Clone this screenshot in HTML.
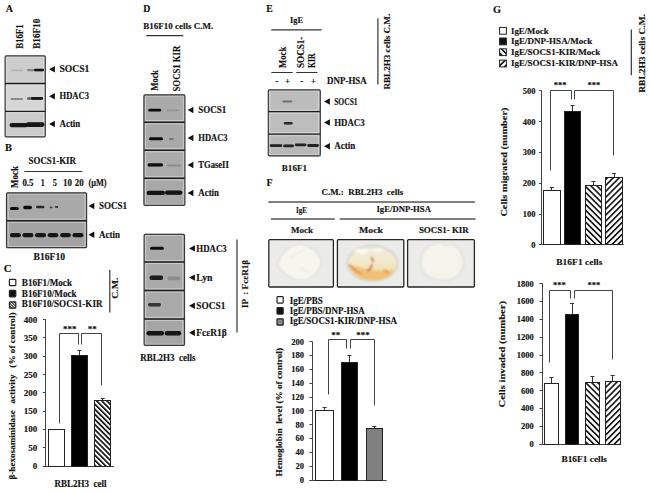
<!DOCTYPE html><html><head><meta charset="utf-8"><style>svg text{font-family:"Liberation Serif",serif;font-weight:bold;stroke:#111;stroke-width:0.15px}html,body{margin:0;padding:0;background:#fff;width:650px;height:492px;overflow:hidden}svg{display:block}</style></head><body><svg width="650" height="492" viewBox="0 0 650 492">
<defs><filter id="bl" x="-30%" y="-200%" width="160%" height="500%"><feGaussianBlur stdDeviation="0.7"/></filter><filter id="bl2" x="-30%" y="-30%" width="160%" height="160%"><feGaussianBlur stdDeviation="2"/></filter><filter id="bl1" x="-30%" y="-30%" width="160%" height="160%"><feGaussianBlur stdDeviation="1"/></filter><pattern id="hb" patternUnits="userSpaceOnUse" width="4.2" height="4.2" patternTransform="rotate(-45)"><rect width="4.2" height="4.2" fill="#fff"/><rect width="1.6" height="4.2" fill="#111"/></pattern><pattern id="hf" patternUnits="userSpaceOnUse" width="4.2" height="4.2" patternTransform="rotate(45)"><rect width="4.2" height="4.2" fill="#fff"/><rect width="1.6" height="4.2" fill="#111"/></pattern><pattern id="hs" patternUnits="userSpaceOnUse" width="2" height="2" patternTransform="rotate(-45)"><rect width="2" height="2" fill="#ddd"/><rect width="1" height="2" fill="#333"/></pattern><pattern id="hc" patternUnits="userSpaceOnUse" width="3.6" height="3.6" patternTransform="rotate(-45)"><rect width="3.6" height="3.6" fill="#fff"/><rect width="1.7" height="3.6" fill="#111"/></pattern></defs>
<rect width="650" height="492" fill="#fff"/>
<text x="5.7" y="11.6" font-size="10" text-anchor="start" fill="#111" textLength="7.3" lengthAdjust="spacingAndGlyphs">A</text>
<text transform="translate(23.1,48.8) rotate(-90)" x="0" y="0" font-size="10.5" fill="#111" textLength="24.4" lengthAdjust="spacingAndGlyphs">B16F1</text>
<text transform="translate(40.0,48.8) rotate(-90)" x="0" y="0" font-size="10.5" fill="#111" textLength="30.1" lengthAdjust="spacingAndGlyphs">B16F10</text>
<rect x="5.1" y="55.4" width="40.2" height="28.1" fill="#cdcdcd"/>
<rect x="6.7" y="57.0" width="37.0" height="24.9" fill="none" stroke="#e8e8e8" stroke-opacity="0.6" stroke-width="0.9"/>
<rect x="5.1" y="83.5" width="40.2" height="27.9" fill="#d6d6d6"/>
<rect x="6.7" y="85.1" width="37.0" height="24.7" fill="none" stroke="#e8e8e8" stroke-opacity="0.6" stroke-width="0.9"/>
<rect x="5.1" y="111.4" width="40.2" height="26.0" fill="#cbcbcb"/>
<rect x="6.7" y="113.0" width="37.0" height="22.8" fill="none" stroke="#e8e8e8" stroke-opacity="0.6" stroke-width="0.9"/>
<rect x="5.1" y="55.9" width="40.2" height="81.0" rx="1.2" fill="none" stroke="#3a3a3a" stroke-width="1.2"/>
<line x1="5.1" y1="83.5" x2="45.3" y2="83.5" stroke="#1e1e1e" stroke-width="1.4"/>
<line x1="5.1" y1="111.4" x2="45.3" y2="111.4" stroke="#1e1e1e" stroke-width="1.4"/>
<rect x="11.0" y="69.4" width="12.0" height="1.8" rx="0.9" fill="#0a0a0a" fill-opacity="0.12" filter="url(#bl)"/>
<rect x="27.0" y="69.0" width="17.0" height="2.2" rx="1.1" fill="#0a0a0a" fill-opacity="0.35" filter="url(#bl)"/>
<rect x="34.0" y="68.7" width="10.0" height="2.6" rx="1.3" fill="#0a0a0a" fill-opacity="0.95" filter="url(#bl)"/>
<rect x="10.5" y="97.9" width="12.5" height="2.2" rx="1.1" fill="#0a0a0a" fill-opacity="0.35" filter="url(#bl)"/>
<rect x="27.0" y="97.2" width="16.0" height="2.6" rx="1.3" fill="#0a0a0a" fill-opacity="0.55" filter="url(#bl)"/>
<rect x="31.0" y="97.0" width="12.0" height="2.8" rx="1.4" fill="#0a0a0a" fill-opacity="0.9" filter="url(#bl)"/>
<rect x="9.5" y="122.9" width="18.5" height="4.4" rx="2.2" fill="#0a0a0a" fill-opacity="0.95" filter="url(#bl)"/>
<rect x="26.0" y="122.3" width="18.5" height="4.6" rx="2.3" fill="#0a0a0a" fill-opacity="0.95" filter="url(#bl)"/>
<polygon points="49.1,69.3 54.9,66.1 54.9,72.5" fill="#111"/>
<text x="59.5" y="72.4" font-size="9.5" text-anchor="start" fill="#111" textLength="29.9" lengthAdjust="spacingAndGlyphs">SOCS1</text>
<polygon points="49.1,96.3 54.9,93.1 54.9,99.5" fill="#111"/>
<text x="59.5" y="99.4" font-size="9.5" text-anchor="start" fill="#111" textLength="29.5" lengthAdjust="spacingAndGlyphs">HDAC3</text>
<polygon points="49.1,124.0 54.9,120.8 54.9,127.2" fill="#111"/>
<text x="59.5" y="127.1" font-size="9.5" text-anchor="start" fill="#111" textLength="20.8" lengthAdjust="spacingAndGlyphs">Actin</text>
<text x="5.0" y="151.1" font-size="10" text-anchor="start" fill="#111" textLength="7.0" lengthAdjust="spacingAndGlyphs">B</text>
<text x="28.5" y="164.4" font-size="9.5" text-anchor="start" fill="#111" textLength="47.5" lengthAdjust="spacingAndGlyphs">SOCS1-KIR</text>
<line x1="24.4" y1="171.5" x2="82.3" y2="171.5" stroke="#333" stroke-width="1.2"/>
<text transform="translate(18.2,188.0) rotate(-90)" x="0" y="0" font-size="9.8" fill="#111" textLength="22.0" lengthAdjust="spacingAndGlyphs">Mock</text>
<text x="22.4" y="186.1" font-size="9.5" text-anchor="start" fill="#111" textLength="11.1" lengthAdjust="spacingAndGlyphs">0.5</text>
<text x="40.7" y="186.1" font-size="9.5" text-anchor="start" fill="#111" textLength="4.0" lengthAdjust="spacingAndGlyphs">1</text>
<text x="52.8" y="186.1" font-size="9.5" text-anchor="start" fill="#111" textLength="4.2" lengthAdjust="spacingAndGlyphs">5</text>
<text x="63.0" y="186.1" font-size="9.5" text-anchor="start" fill="#111" textLength="9.0" lengthAdjust="spacingAndGlyphs">10</text>
<text x="74.8" y="186.1" font-size="9.5" text-anchor="start" fill="#111" textLength="8.9" lengthAdjust="spacingAndGlyphs">20</text>
<text x="88.4" y="186.1" font-size="9.5" text-anchor="start" fill="#111" textLength="18.2" lengthAdjust="spacingAndGlyphs">(μM)</text>
<rect x="6.5" y="192.4" width="80.1" height="28.3" fill="#a9a9a9"/>
<rect x="8.1" y="194.0" width="76.9" height="25.1" fill="none" stroke="#e8e8e8" stroke-opacity="0.6" stroke-width="0.9"/>
<rect x="6.5" y="220.7" width="80.1" height="27.5" fill="#a3a3a3"/>
<rect x="8.1" y="222.3" width="76.9" height="24.3" fill="none" stroke="#e8e8e8" stroke-opacity="0.6" stroke-width="0.9"/>
<rect x="6.5" y="192.9" width="80.1" height="54.8" rx="1.2" fill="none" stroke="#3a3a3a" stroke-width="1.2"/>
<line x1="6.5" y1="220.7" x2="86.6" y2="220.7" stroke="#1e1e1e" stroke-width="1.4"/>
<rect x="10.0" y="206.9" width="8.8" height="3.2" rx="1.6" fill="#0a0a0a" fill-opacity="1" filter="url(#bl)"/>
<rect x="23.2" y="205.8" width="8.8" height="3.4" rx="1.7" fill="#0a0a0a" fill-opacity="1" filter="url(#bl)"/>
<rect x="36.0" y="205.7" width="8.4" height="2.6" rx="1.3" fill="#0a0a0a" fill-opacity="0.85" filter="url(#bl)"/>
<rect x="49.6" y="206.4" width="2.9" height="1.8" rx="0.9" fill="#0a0a0a" fill-opacity="0.6" filter="url(#bl)"/>
<rect x="55.0" y="206.1" width="3.2" height="1.8" rx="0.9" fill="#0a0a0a" fill-opacity="0.7" filter="url(#bl)"/>
<rect x="10.0" y="233.1" width="11.0" height="4.2" rx="2.1" fill="#0a0a0a" fill-opacity="0.95" filter="url(#bl)"/>
<rect x="22.5" y="233.1" width="10.9" height="4.2" rx="2.1" fill="#0a0a0a" fill-opacity="0.95" filter="url(#bl)"/>
<rect x="35.0" y="233.1" width="11.0" height="4.2" rx="2.1" fill="#0a0a0a" fill-opacity="0.95" filter="url(#bl)"/>
<rect x="47.7" y="233.1" width="10.5" height="4.2" rx="2.1" fill="#0a0a0a" fill-opacity="0.95" filter="url(#bl)"/>
<rect x="60.2" y="233.1" width="10.6" height="4.2" rx="2.1" fill="#0a0a0a" fill-opacity="0.95" filter="url(#bl)"/>
<rect x="72.5" y="233.1" width="10.9" height="4.2" rx="2.1" fill="#0a0a0a" fill-opacity="0.95" filter="url(#bl)"/>
<polygon points="88.5,206.0 94.3,202.8 94.3,209.2" fill="#111"/>
<text x="99.0" y="209.1" font-size="9.5" text-anchor="start" fill="#111" textLength="28.0" lengthAdjust="spacingAndGlyphs">SOCS1</text>
<polygon points="88.5,234.8 94.3,231.6 94.3,238.0" fill="#111"/>
<text x="99.0" y="237.9" font-size="9.5" text-anchor="start" fill="#111" textLength="21.0" lengthAdjust="spacingAndGlyphs">Actin</text>
<text x="33.5" y="259.9" font-size="9.5" text-anchor="start" fill="#111" textLength="31.5" lengthAdjust="spacingAndGlyphs">B16F10</text>
<text x="3.7" y="272.1" font-size="10" text-anchor="start" fill="#111" textLength="7.7" lengthAdjust="spacingAndGlyphs">C</text>
<rect x="9.4" y="279.3" width="6.4" height="6.4" rx="0.8" fill="#fff" stroke="#222" stroke-width="1.2"/>
<rect x="9.4" y="290.4" width="6.4" height="6.4" rx="0.8" fill="#111" stroke="#222" stroke-width="1.2"/>
<rect x="9.4" y="301.8" width="6.4" height="6.4" rx="0.8" fill="url(#hs)" stroke="#222" stroke-width="1.2"/>
<text x="21.8" y="285.6" font-size="9.5" text-anchor="start" fill="#111" textLength="50.2" lengthAdjust="spacingAndGlyphs">B16F1/Mock</text>
<text x="21.8" y="296.7" font-size="9.5" text-anchor="start" fill="#111" textLength="54.8" lengthAdjust="spacingAndGlyphs">B16F10/Mock</text>
<text x="21.8" y="307.4" font-size="9.5" text-anchor="start" fill="#111" textLength="80.7" lengthAdjust="spacingAndGlyphs">B16F10/SOCS1-KIR</text>
<line x1="109.8" y1="270.0" x2="109.8" y2="312.6" stroke="#333" stroke-width="1.2"/>
<text transform="translate(118.3,298.8) rotate(-90)" x="0" y="0" font-size="9" fill="#111" textLength="21.3" lengthAdjust="spacingAndGlyphs">C.M.</text>
<line x1="45.5" y1="319.1" x2="45.5" y2="466.0" stroke="#444" stroke-width="1"/>
<line x1="42.8" y1="466.5" x2="114.0" y2="466.5" stroke="#444" stroke-width="1"/>
<line x1="42.8" y1="466.5" x2="45.3" y2="466.5" stroke="#444" stroke-width="1"/>
<text x="37.2" y="469.0" font-size="9" text-anchor="end" fill="#111">0</text>
<line x1="42.8" y1="447.5" x2="45.3" y2="447.5" stroke="#444" stroke-width="1"/>
<text x="37.2" y="450.7" font-size="9" text-anchor="end" fill="#111">50</text>
<line x1="42.8" y1="429.5" x2="45.3" y2="429.5" stroke="#444" stroke-width="1"/>
<text x="37.2" y="432.4" font-size="9" text-anchor="end" fill="#111">100</text>
<line x1="42.8" y1="411.5" x2="45.3" y2="411.5" stroke="#444" stroke-width="1"/>
<text x="37.2" y="414.1" font-size="9" text-anchor="end" fill="#111">150</text>
<line x1="42.8" y1="392.5" x2="45.3" y2="392.5" stroke="#444" stroke-width="1"/>
<text x="37.2" y="395.8" font-size="9" text-anchor="end" fill="#111">200</text>
<line x1="42.8" y1="374.5" x2="45.3" y2="374.5" stroke="#444" stroke-width="1"/>
<text x="37.2" y="377.5" font-size="9" text-anchor="end" fill="#111">250</text>
<line x1="42.8" y1="356.5" x2="45.3" y2="356.5" stroke="#444" stroke-width="1"/>
<text x="37.2" y="359.2" font-size="9" text-anchor="end" fill="#111">300</text>
<line x1="42.8" y1="337.5" x2="45.3" y2="337.5" stroke="#444" stroke-width="1"/>
<text x="37.2" y="340.9" font-size="9" text-anchor="end" fill="#111">350</text>
<line x1="42.8" y1="319.5" x2="45.3" y2="319.5" stroke="#444" stroke-width="1"/>
<text x="37.2" y="322.6" font-size="9" text-anchor="end" fill="#111">400</text>
<line x1="56.5" y1="429.4" x2="56.5" y2="429.0" stroke="#333" stroke-width="1"/>
<line x1="54.3" y1="429.5" x2="58.3" y2="429.5" stroke="#333" stroke-width="1"/>
<rect x="48.5" y="429.5" width="16.0" height="37.0" fill="#fff" stroke="#222" stroke-width="1"/>
<line x1="79.5" y1="355.1" x2="79.5" y2="350.7" stroke="#333" stroke-width="1"/>
<line x1="77.3" y1="350.5" x2="81.3" y2="350.5" stroke="#333" stroke-width="1"/>
<rect x="71.5" y="355.5" width="16.0" height="111.0" fill="#000" stroke="#222" stroke-width="1"/>
<line x1="102.5" y1="400.1" x2="102.5" y2="398.3" stroke="#333" stroke-width="1"/>
<line x1="100.7" y1="398.5" x2="104.7" y2="398.5" stroke="#333" stroke-width="1"/>
<rect x="94.5" y="400.5" width="16.0" height="66.0" fill="url(#hc)" stroke="#222" stroke-width="1"/>
<polyline points="59.5,423.5 59.5,333.5 78.5,333.5 78.5,344.5" fill="none" stroke="#444" stroke-width="1"/>
<polyline points="81.5,344.5 81.5,333.5 101.5,333.5 101.5,385.5" fill="none" stroke="#444" stroke-width="1"/>
<text x="69.8" y="332.0" font-size="9" text-anchor="middle" fill="#111">***</text>
<text x="92.3" y="332.0" font-size="9" text-anchor="middle" fill="#111">**</text>
<text x="54.6" y="487.4" font-size="9.5" text-anchor="start" fill="#111" textLength="52.0" lengthAdjust="spacingAndGlyphs">RBL2H3 &#160;cell</text>
<text transform="translate(15.0,479.5) rotate(-90)" x="0" y="0" font-size="9" fill="#111" textLength="167.0" lengthAdjust="spacingAndGlyphs">β-hexosaminidase &#160;&#160;activity &#160;&#160;(% of control)</text>
<text x="143.2" y="11.9" font-size="10" text-anchor="start" fill="#111" textLength="7.1" lengthAdjust="spacingAndGlyphs">D</text>
<text x="143.2" y="29.2" font-size="9" text-anchor="start" fill="#111" textLength="70.1" lengthAdjust="spacingAndGlyphs">B16F10 cells C.M.</text>
<line x1="146.3" y1="35.6" x2="183.3" y2="35.6" stroke="#333" stroke-width="1.2"/>
<text transform="translate(158.1,90.4) rotate(-90)" x="0" y="0" font-size="10" fill="#111" textLength="20.4" lengthAdjust="spacingAndGlyphs">Mock</text>
<text transform="translate(180.0,91.5) rotate(-90)" x="0" y="0" font-size="10" fill="#111" textLength="45.8" lengthAdjust="spacingAndGlyphs">SOCS1 KIR</text>
<rect x="143.9" y="94.4" width="41.0" height="27.8" fill="#aaaaaa"/>
<rect x="145.5" y="96.0" width="37.8" height="24.6" fill="none" stroke="#e8e8e8" stroke-opacity="0.6" stroke-width="0.9"/>
<rect x="143.9" y="122.2" width="41.0" height="28.0" fill="#a9a9a9"/>
<rect x="145.5" y="123.8" width="37.8" height="24.8" fill="none" stroke="#e8e8e8" stroke-opacity="0.6" stroke-width="0.9"/>
<rect x="143.9" y="150.2" width="41.0" height="28.1" fill="#ababab"/>
<rect x="145.5" y="151.8" width="37.8" height="24.9" fill="none" stroke="#e8e8e8" stroke-opacity="0.6" stroke-width="0.9"/>
<rect x="143.9" y="178.3" width="41.0" height="27.6" fill="#a8a8a8"/>
<rect x="145.5" y="179.9" width="37.8" height="24.4" fill="none" stroke="#e8e8e8" stroke-opacity="0.6" stroke-width="0.9"/>
<rect x="143.9" y="94.9" width="41.0" height="110.5" rx="1.2" fill="none" stroke="#3a3a3a" stroke-width="1.2"/>
<line x1="143.9" y1="122.2" x2="184.9" y2="122.2" stroke="#1e1e1e" stroke-width="1.4"/>
<line x1="143.9" y1="150.2" x2="184.9" y2="150.2" stroke="#1e1e1e" stroke-width="1.4"/>
<line x1="143.9" y1="178.3" x2="184.9" y2="178.3" stroke="#1e1e1e" stroke-width="1.4"/>
<rect x="148.3" y="108.8" width="12.9" height="2.8" rx="1.4" fill="#0a0a0a" fill-opacity="1" filter="url(#bl)"/>
<rect x="166.6" y="109.5" width="12.2" height="1.8" rx="0.9" fill="#0a0a0a" fill-opacity="0.12" filter="url(#bl)"/>
<rect x="149.0" y="137.3" width="14.0" height="3.0" rx="1.5" fill="#0a0a0a" fill-opacity="1" filter="url(#bl)"/>
<rect x="169.0" y="138.0" width="5.0" height="2.0" rx="1.0" fill="#0a0a0a" fill-opacity="0.3" filter="url(#bl)"/>
<rect x="147.6" y="163.3" width="15.4" height="3.2" rx="1.6" fill="#0a0a0a" fill-opacity="1" filter="url(#bl)"/>
<rect x="166.6" y="164.6" width="14.4" height="1.8" rx="0.9" fill="#0a0a0a" fill-opacity="0.18" filter="url(#bl)"/>
<rect x="146.6" y="190.7" width="18.4" height="4.4" rx="2.2" fill="#0a0a0a" fill-opacity="0.95" filter="url(#bl)"/>
<rect x="165.0" y="190.4" width="17.4" height="4.4" rx="2.2" fill="#0a0a0a" fill-opacity="0.95" filter="url(#bl)"/>
<polygon points="187.6,110.0 193.4,106.8 193.4,113.2" fill="#111"/>
<text x="198.3" y="113.1" font-size="9.5" text-anchor="start" fill="#111" textLength="28.0" lengthAdjust="spacingAndGlyphs">SOCS1</text>
<polygon points="187.6,138.0 193.4,134.8 193.4,141.2" fill="#111"/>
<text x="198.3" y="141.1" font-size="9.5" text-anchor="start" fill="#111" textLength="29.3" lengthAdjust="spacingAndGlyphs">HDAC3</text>
<polygon points="187.6,165.0 193.4,161.8 193.4,168.2" fill="#111"/>
<text x="198.3" y="168.1" font-size="9.5" text-anchor="start" fill="#111" textLength="30.5" lengthAdjust="spacingAndGlyphs">TGaseII</text>
<polygon points="187.6,193.0 193.4,189.8 193.4,196.2" fill="#111"/>
<text x="198.3" y="196.1" font-size="9.5" text-anchor="start" fill="#111" textLength="20.7" lengthAdjust="spacingAndGlyphs">Actin</text>
<rect x="144.1" y="233.8" width="40.4" height="28.2" fill="#a9a9a9"/>
<rect x="145.7" y="235.4" width="37.2" height="25.0" fill="none" stroke="#e8e8e8" stroke-opacity="0.6" stroke-width="0.9"/>
<rect x="144.1" y="262.0" width="40.4" height="28.5" fill="#aaaaaa"/>
<rect x="145.7" y="263.6" width="37.2" height="25.3" fill="none" stroke="#e8e8e8" stroke-opacity="0.6" stroke-width="0.9"/>
<rect x="144.1" y="290.5" width="40.4" height="28.5" fill="#aaaaaa"/>
<rect x="145.7" y="292.1" width="37.2" height="25.3" fill="none" stroke="#e8e8e8" stroke-opacity="0.6" stroke-width="0.9"/>
<rect x="144.1" y="319.0" width="40.4" height="26.9" fill="#a6a6a6"/>
<rect x="145.7" y="320.6" width="37.2" height="23.7" fill="none" stroke="#e8e8e8" stroke-opacity="0.6" stroke-width="0.9"/>
<rect x="144.1" y="234.3" width="40.4" height="111.1" rx="1.2" fill="none" stroke="#3a3a3a" stroke-width="1.2"/>
<line x1="144.1" y1="262.0" x2="184.5" y2="262.0" stroke="#1e1e1e" stroke-width="1.4"/>
<line x1="144.1" y1="290.5" x2="184.5" y2="290.5" stroke="#1e1e1e" stroke-width="1.4"/>
<line x1="144.1" y1="319.0" x2="184.5" y2="319.0" stroke="#1e1e1e" stroke-width="1.4"/>
<rect x="150.0" y="246.8" width="13.8" height="3.0" rx="1.5" fill="#0a0a0a" fill-opacity="1" filter="url(#bl)"/>
<rect x="149.5" y="275.6" width="13.7" height="4.4" rx="2.2" fill="#0a0a0a" fill-opacity="0.9" filter="url(#bl)"/>
<rect x="167.4" y="276.4" width="12.8" height="3.8" rx="1.9" fill="#0a0a0a" fill-opacity="0.18" filter="url(#bl)"/>
<rect x="148.0" y="303.0" width="13.0" height="3.4" rx="1.7" fill="#0a0a0a" fill-opacity="0.75" filter="url(#bl)"/>
<rect x="146.5" y="331.0" width="17.5" height="4.4" rx="2.2" fill="#0a0a0a" fill-opacity="0.95" filter="url(#bl)"/>
<rect x="164.7" y="331.0" width="16.5" height="4.4" rx="2.2" fill="#0a0a0a" fill-opacity="0.95" filter="url(#bl)"/>
<polygon points="189.1,248.4 194.9,245.2 194.9,251.6" fill="#111"/>
<text x="196.3" y="251.5" font-size="9.5" text-anchor="start" fill="#111" textLength="30.4" lengthAdjust="spacingAndGlyphs">HDAC3</text>
<polygon points="189.1,277.6 194.9,274.4 194.9,280.8" fill="#111"/>
<text x="196.3" y="280.7" font-size="9.5" text-anchor="start" fill="#111" textLength="16.2" lengthAdjust="spacingAndGlyphs">Lyn</text>
<polygon points="189.1,305.8 194.9,302.6 194.9,309.0" fill="#111"/>
<text x="196.3" y="308.9" font-size="9.5" text-anchor="start" fill="#111" textLength="29.0" lengthAdjust="spacingAndGlyphs">SOCS1</text>
<polygon points="189.1,332.8 194.9,329.6 194.9,336.0" fill="#111"/>
<text x="196.3" y="335.9" font-size="9.5" text-anchor="start" fill="#111" textLength="30.4" lengthAdjust="spacingAndGlyphs">FcεR1β</text>
<line x1="237.0" y1="239.5" x2="237.0" y2="332.6" stroke="#333" stroke-width="1.2"/>
<text transform="translate(248.2,308.0) rotate(-90)" x="0" y="0" font-size="9" fill="#111" textLength="48.2" lengthAdjust="spacingAndGlyphs">IP &#160;: FcεR1β</text>
<text x="140.2" y="360.6" font-size="9.5" text-anchor="start" fill="#111" textLength="55.3" lengthAdjust="spacingAndGlyphs">RBL2H3 &#160;cells</text>
<text x="266.3" y="12.2" font-size="10" text-anchor="start" fill="#111" textLength="6.5" lengthAdjust="spacingAndGlyphs">E</text>
<text x="290.0" y="22.7" font-size="9" text-anchor="start" fill="#111" textLength="13.0" lengthAdjust="spacingAndGlyphs">IgE</text>
<line x1="271.3" y1="29.9" x2="321.5" y2="29.9" stroke="#333" stroke-width="1.2"/>
<text transform="translate(285.8,68.0) rotate(-90)" x="0" y="0" font-size="10" fill="#111" textLength="21.3" lengthAdjust="spacingAndGlyphs">Mock</text>
<text transform="translate(304.1,68.0) rotate(-90)" x="0" y="0" font-size="10" fill="#111" textLength="31.4" lengthAdjust="spacingAndGlyphs">SOCS1-</text>
<text transform="translate(315.3,68.0) rotate(-90)" x="0" y="0" font-size="10" fill="#111" textLength="14.7" lengthAdjust="spacingAndGlyphs">KIR</text>
<line x1="271.3" y1="72.5" x2="292.7" y2="72.5" stroke="#333" stroke-width="1"/>
<line x1="296.3" y1="72.5" x2="317.5" y2="72.5" stroke="#333" stroke-width="1"/>
<text x="276.8" y="83.7" font-size="9" text-anchor="middle" fill="#111">-</text>
<text x="287.6" y="83.7" font-size="9" text-anchor="middle" fill="#111">+</text>
<text x="301.8" y="83.7" font-size="9" text-anchor="middle" fill="#111">-</text>
<text x="313.4" y="83.7" font-size="9" text-anchor="middle" fill="#111">+</text>
<text x="327.1" y="83.7" font-size="9.5" text-anchor="start" fill="#111" textLength="39.7" lengthAdjust="spacingAndGlyphs">DNP-HSA</text>
<rect x="268.3" y="89.3" width="52.0" height="22.3" fill="#bcbcbc"/>
<rect x="269.9" y="90.9" width="48.8" height="19.1" fill="none" stroke="#e8e8e8" stroke-opacity="0.6" stroke-width="0.9"/>
<rect x="268.3" y="111.6" width="52.0" height="22.5" fill="#bdbdbd"/>
<rect x="269.9" y="113.2" width="48.8" height="19.3" fill="none" stroke="#e8e8e8" stroke-opacity="0.6" stroke-width="0.9"/>
<rect x="268.3" y="134.1" width="52.0" height="22.3" fill="#b8b8b8"/>
<rect x="269.9" y="135.7" width="48.8" height="19.1" fill="none" stroke="#e8e8e8" stroke-opacity="0.6" stroke-width="0.9"/>
<rect x="268.3" y="89.8" width="52.0" height="66.1" rx="1.2" fill="none" stroke="#3a3a3a" stroke-width="1.2"/>
<line x1="268.3" y1="111.6" x2="320.3" y2="111.6" stroke="#1e1e1e" stroke-width="1.4"/>
<line x1="268.3" y1="134.1" x2="320.3" y2="134.1" stroke="#1e1e1e" stroke-width="1.4"/>
<rect x="282.3" y="100.6" width="10.0" height="1.8" rx="0.9" fill="#0a0a0a" fill-opacity="0.4" filter="url(#bl)"/>
<rect x="283.8" y="122.0" width="8.8" height="2.6" rx="1.3" fill="#0a0a0a" fill-opacity="0.85" filter="url(#bl)"/>
<rect x="269.7" y="144.3" width="12.6" height="2.8" rx="1.4" fill="#0a0a0a" fill-opacity="0.88" filter="url(#bl)"/>
<rect x="283.2" y="144.5" width="10.8" height="2.8" rx="1.4" fill="#0a0a0a" fill-opacity="0.88" filter="url(#bl)"/>
<rect x="294.8" y="143.4" width="11.6" height="2.8" rx="1.4" fill="#0a0a0a" fill-opacity="0.88" filter="url(#bl)"/>
<rect x="307.3" y="144.1" width="11.6" height="2.8" rx="1.4" fill="#0a0a0a" fill-opacity="0.88" filter="url(#bl)"/>
<polygon points="324.1,101.5 329.9,98.3 329.9,104.7" fill="#111"/>
<text x="334.2" y="104.6" font-size="9.5" text-anchor="start" fill="#111" textLength="23.4" lengthAdjust="spacingAndGlyphs">SOCS1</text>
<polygon points="324.1,122.5 329.9,119.3 329.9,125.7" fill="#111"/>
<text x="334.2" y="125.6" font-size="9.5" text-anchor="start" fill="#111" textLength="30.5" lengthAdjust="spacingAndGlyphs">HDAC3</text>
<polygon points="324.1,146.3 329.9,143.1 329.9,149.5" fill="#111"/>
<text x="334.2" y="149.4" font-size="9.5" text-anchor="start" fill="#111" textLength="21.0" lengthAdjust="spacingAndGlyphs">Actin</text>
<line x1="377.9" y1="18.3" x2="377.9" y2="84.4" stroke="#333" stroke-width="1.2"/>
<text transform="translate(389.8,89.5) rotate(-90)" x="0" y="0" font-size="9" fill="#111" textLength="75.7" lengthAdjust="spacingAndGlyphs">RBL2H3 cells C.M.</text>
<text x="281.8" y="170.8" font-size="9" text-anchor="start" fill="#111" textLength="25.2" lengthAdjust="spacingAndGlyphs">B16F1</text>
<text x="266.5" y="186.1" font-size="10" text-anchor="start" fill="#111" textLength="6.1" lengthAdjust="spacingAndGlyphs">F</text>
<text x="321.5" y="194.8" font-size="9" text-anchor="start" fill="#111" textLength="81.7" lengthAdjust="spacingAndGlyphs">C.M.: &#160;RBL2H3 &#160;cells</text>
<line x1="268.3" y1="202.0" x2="474.9" y2="202.0" stroke="#555" stroke-width="1.5"/>
<text x="296.0" y="212.8" font-size="9" text-anchor="start" fill="#111" textLength="11.0" lengthAdjust="spacingAndGlyphs">IgE</text>
<text x="376.5" y="212.1" font-size="9" text-anchor="start" fill="#111" textLength="54.4" lengthAdjust="spacingAndGlyphs">IgE/DNP-HSA</text>
<line x1="271.0" y1="219.0" x2="334.8" y2="219.0" stroke="#555" stroke-width="1.5"/>
<line x1="339.7" y1="219.0" x2="475.6" y2="219.0" stroke="#555" stroke-width="1.5"/>
<text x="291.0" y="232.8" font-size="9" text-anchor="start" fill="#111" textLength="22.0" lengthAdjust="spacingAndGlyphs">Mock</text>
<text x="359.0" y="232.8" font-size="9" text-anchor="start" fill="#111" textLength="24.0" lengthAdjust="spacingAndGlyphs">Mock</text>
<text x="418.9" y="233.0" font-size="9" text-anchor="start" fill="#111" textLength="49.9" lengthAdjust="spacingAndGlyphs">SOCS1- KIR</text>
<defs><linearGradient id="og" x1="0" y1="0" x2="0" y2="1"><stop offset="0" stop-color="#efebe0"/><stop offset="0.5" stop-color="#f4e8c8"/><stop offset="1" stop-color="#f2d08e"/></linearGradient><radialGradient id="wg" cx="0.5" cy="0.5" r="0.6"><stop offset="0" stop-color="#f8f6ee"/><stop offset="0.8" stop-color="#f4f1e8"/><stop offset="1" stop-color="#dcdcd6"/></radialGradient></defs>
<rect x="268.8" y="239.6" width="64.6" height="47.4" rx="1" fill="#ebebe9" stroke="#262626" stroke-width="1.3"/>
<rect x="337.4" y="239.6" width="66.4" height="47.4" rx="1" fill="#ebebe9" stroke="#262626" stroke-width="1.3"/>
<rect x="407.6" y="239.6" width="66.8" height="47.4" rx="1" fill="#ebebe9" stroke="#262626" stroke-width="1.3"/>
<g filter="url(#bl1)">
<path d="M277.3,263.1 C277.9,260.0 280.6,255.3 283.0,252.2 C285.5,249.1 287.8,247.4 291.2,245.9 C294.5,244.3 297.3,243.1 301.5,243.6 C305.6,244.1 310.8,246.6 314.1,248.8 C317.5,251.0 318.5,253.3 320.0,255.8 C321.4,258.2 322.5,259.7 322.3,262.6 C322.0,265.5 320.8,269.0 318.7,271.8 C316.6,274.6 314.2,276.5 310.7,278.1 C307.2,279.8 303.3,281.3 299.2,281.0 C295.0,280.7 291.1,278.5 287.6,276.5 C284.1,274.4 281.5,271.9 279.6,269.5 C277.8,267.1 276.7,266.3 277.3,263.1 Z" fill="#dfdfda"/>
<path d="M279.1,263.1 C279.6,260.2 282.1,255.8 284.4,253.0 C286.7,250.1 288.8,248.6 291.8,247.1 C294.9,245.7 297.5,244.5 301.3,245.0 C305.2,245.5 310.0,247.8 313.1,249.8 C316.1,251.8 317.1,253.9 318.4,256.2 C319.8,258.5 320.8,259.9 320.5,262.6 C320.3,265.2 319.2,268.4 317.3,271.0 C315.4,273.6 313.1,275.3 309.9,276.9 C306.6,278.4 303.1,279.8 299.2,279.6 C295.4,279.3 291.8,277.3 288.6,275.3 C285.3,273.4 282.9,271.1 281.2,268.9 C279.5,266.7 278.5,265.9 279.1,263.1 Z" fill="#f6f5ee"/>
<path d="M290,257 L304,250 M300,268 L310,272" stroke="#e4e4de" stroke-width="1" fill="none"/>
</g>
<g filter="url(#bl1)">
<ellipse cx="372.3" cy="263.2" rx="26" ry="18.4" fill="#d6d3ca"/>
<ellipse cx="372.3" cy="263.6" rx="24.3" ry="16.8" fill="url(#og)"/>
<path d="M348.5,264 C352,274 362,280 374,280.5 C382,280.5 390,277 394,270 C384,272 364,270 348.5,264 Z" fill="#efb865" fill-opacity="0.75"/>
<path d="M349,265 L356,271 L362,274" stroke="#e3873a" stroke-width="1.8" fill="none"/>
<path d="M372,257 L373,262 M372.5,264 L370,269 L367,271" stroke="#b5300e" stroke-width="1.5" fill="none"/>
<path d="M384,270 L389,273" stroke="#d8853a" stroke-width="1.6" fill="none"/>
<ellipse cx="362" cy="251" rx="7" ry="2.5" fill="#fdfbf6" fill-opacity="0.9"/>
<ellipse cx="378" cy="250" rx="5" ry="2" fill="#fdfbf6" fill-opacity="0.8"/>
</g>
<g filter="url(#bl1)">
<path d="M419.6,263.8 C419.3,259.2 421.2,253.7 423.7,250.0 C426.2,246.3 430.3,244.6 433.5,243.1 C436.7,241.7 439.4,241.6 441.5,241.9 C443.6,242.2 443.1,244.5 445.0,244.8 C446.9,245.1 449.2,242.9 451.9,243.6 C454.6,244.4 457.7,245.6 460.0,248.8 C462.3,252.1 464.4,257.2 464.6,261.5 C464.8,265.9 463.4,269.6 461.1,273.0 C458.9,276.3 456.0,278.6 451.9,279.9 C447.7,281.3 442.8,281.3 438.0,280.4 C433.3,279.6 428.7,278.3 425.4,275.4 C422.0,272.4 419.9,268.4 419.6,263.8 Z" fill="#dfdfda"/>
<path d="M421.4,263.6 C421.1,259.4 422.8,254.3 425.1,250.8 C427.4,247.4 431.2,245.8 434.1,244.5 C437.1,243.1 439.6,243.1 441.5,243.3 C443.4,243.6 443.1,245.7 444.8,246.0 C446.5,246.3 448.6,244.3 451.1,245.0 C453.6,245.6 456.5,246.8 458.6,249.8 C460.7,252.7 462.6,257.5 462.8,261.5 C463.0,265.5 461.8,269.0 459.7,272.0 C457.6,275.1 455.0,277.2 451.1,278.5 C447.3,279.7 442.8,279.7 438.4,279.0 C433.9,278.2 429.7,277.0 426.6,274.2 C423.6,271.5 421.6,267.8 421.4,263.6 Z" fill="#f5f3ea"/>
</g>
<rect x="277.0" y="296.7" width="6.2" height="6.4" rx="0.8" fill="#fff" stroke="#222" stroke-width="1.2"/>
<rect x="277.0" y="307.7" width="6.2" height="6.4" rx="0.8" fill="#111" stroke="#222" stroke-width="1.2"/>
<rect x="277.0" y="318.8" width="6.2" height="6.4" rx="0.8" fill="#888" stroke="#222" stroke-width="1.2"/>
<text x="289.8" y="303.8" font-size="9.8" text-anchor="start" fill="#111" textLength="33.0" lengthAdjust="spacingAndGlyphs">IgE/PBS</text>
<text x="289.8" y="314.0" font-size="9.8" text-anchor="start" fill="#111" textLength="75.0" lengthAdjust="spacingAndGlyphs">IgE/PBS/DNP-HSA</text>
<text x="289.8" y="324.4" font-size="9.8" text-anchor="start" fill="#111" textLength="107.3" lengthAdjust="spacingAndGlyphs">IgE/SOCS1-KIR/DNP-HSA</text>
<line x1="312.5" y1="341.2" x2="312.5" y2="480.0" stroke="#444" stroke-width="1"/>
<line x1="309.5" y1="480.5" x2="386.6" y2="480.5" stroke="#444" stroke-width="1"/>
<line x1="309.5" y1="480.5" x2="312.0" y2="480.5" stroke="#444" stroke-width="1"/>
<text x="303.9" y="482.8" font-size="8.5" text-anchor="end" fill="#111">0</text>
<line x1="309.5" y1="466.5" x2="312.0" y2="466.5" stroke="#444" stroke-width="1"/>
<text x="303.9" y="469.0" font-size="8.5" text-anchor="end" fill="#111">20</text>
<line x1="309.5" y1="452.5" x2="312.0" y2="452.5" stroke="#444" stroke-width="1"/>
<text x="303.9" y="455.1" font-size="8.5" text-anchor="end" fill="#111">40</text>
<line x1="309.5" y1="438.5" x2="312.0" y2="438.5" stroke="#444" stroke-width="1"/>
<text x="303.9" y="441.3" font-size="8.5" text-anchor="end" fill="#111">60</text>
<line x1="309.5" y1="424.5" x2="312.0" y2="424.5" stroke="#444" stroke-width="1"/>
<text x="303.9" y="427.5" font-size="8.5" text-anchor="end" fill="#111">80</text>
<line x1="309.5" y1="410.5" x2="312.0" y2="410.5" stroke="#444" stroke-width="1"/>
<text x="303.9" y="413.7" font-size="8.5" text-anchor="end" fill="#111">100</text>
<line x1="309.5" y1="397.5" x2="312.0" y2="397.5" stroke="#444" stroke-width="1"/>
<text x="303.9" y="399.8" font-size="8.5" text-anchor="end" fill="#111">120</text>
<line x1="309.5" y1="383.5" x2="312.0" y2="383.5" stroke="#444" stroke-width="1"/>
<text x="303.9" y="386.0" font-size="8.5" text-anchor="end" fill="#111">140</text>
<line x1="309.5" y1="369.5" x2="312.0" y2="369.5" stroke="#444" stroke-width="1"/>
<text x="303.9" y="372.2" font-size="8.5" text-anchor="end" fill="#111">160</text>
<line x1="309.5" y1="355.5" x2="312.0" y2="355.5" stroke="#444" stroke-width="1"/>
<text x="303.9" y="358.3" font-size="8.5" text-anchor="end" fill="#111">180</text>
<line x1="309.5" y1="341.5" x2="312.0" y2="341.5" stroke="#444" stroke-width="1"/>
<text x="303.9" y="344.5" font-size="8.5" text-anchor="end" fill="#111">200</text>
<line x1="324.5" y1="410.9" x2="324.5" y2="407.4" stroke="#333" stroke-width="1"/>
<line x1="322.6" y1="407.5" x2="326.6" y2="407.5" stroke="#333" stroke-width="1"/>
<rect x="315.5" y="410.5" width="18.0" height="70.0" fill="#fff" stroke="#222" stroke-width="1"/>
<line x1="349.5" y1="362.4" x2="349.5" y2="355.5" stroke="#333" stroke-width="1"/>
<line x1="347.4" y1="355.5" x2="351.4" y2="355.5" stroke="#333" stroke-width="1"/>
<rect x="341.5" y="362.5" width="16.0" height="118.0" fill="#000" stroke="#222" stroke-width="1"/>
<line x1="374.5" y1="428.8" x2="374.5" y2="426.8" stroke="#333" stroke-width="1"/>
<line x1="372.3" y1="426.5" x2="376.3" y2="426.5" stroke="#333" stroke-width="1"/>
<rect x="366.5" y="428.5" width="16.0" height="52.0" fill="#808080" stroke="#222" stroke-width="1"/>
<polyline points="328.5,394.5 328.5,339.5 346.5,339.5 346.5,348.5" fill="none" stroke="#444" stroke-width="1"/>
<polyline points="350.5,348.5 350.5,339.5 374.5,339.5 374.5,405.5" fill="none" stroke="#444" stroke-width="1"/>
<text x="335.7" y="338.2" font-size="9" text-anchor="middle" fill="#111">**</text>
<text x="363.0" y="338.2" font-size="9" text-anchor="middle" fill="#111">***</text>
<text transform="translate(281.5,476.5) rotate(-90)" x="0" y="0" font-size="9" fill="#111" textLength="128.5" lengthAdjust="spacingAndGlyphs">Hemoglobin &#160;level (% of control)</text>
<text x="493.0" y="12.8" font-size="10" text-anchor="start" fill="#111" textLength="8.0" lengthAdjust="spacingAndGlyphs">G</text>
<rect x="499.6" y="27.4" width="6.8" height="6.8" fill="#fff" stroke="#222" stroke-width="1"/>
<rect x="499.6" y="38.0" width="6.8" height="6.8" fill="#111" stroke="#222" stroke-width="1"/>
<rect x="499.6" y="48.8" width="6.8" height="6.8" fill="url(#hb)" stroke="#222" stroke-width="1"/>
<rect x="499.6" y="60.1" width="6.8" height="6.8" fill="url(#hf)" stroke="#222" stroke-width="1"/>
<text x="511.0" y="33.6" font-size="8.5" text-anchor="start" fill="#111" textLength="37.6" lengthAdjust="spacingAndGlyphs">IgE/Mock</text>
<text x="511.0" y="44.2" font-size="8.5" text-anchor="start" fill="#111" textLength="81.2" lengthAdjust="spacingAndGlyphs">IgE/DNP-HSA/Mock</text>
<text x="511.0" y="55.0" font-size="8.5" text-anchor="start" fill="#111" textLength="89.3" lengthAdjust="spacingAndGlyphs">IgE/SOCS1-KIR/Mock</text>
<text x="511.0" y="66.3" font-size="8.5" text-anchor="start" fill="#111" textLength="107.0" lengthAdjust="spacingAndGlyphs">IgE/SOCS1-KIR/DNP-HSA</text>
<line x1="631.3" y1="29.6" x2="631.3" y2="75.3" stroke="#333" stroke-width="1.2"/>
<text transform="translate(644.8,92.7) rotate(-90)" x="0" y="0" font-size="9" fill="#111" textLength="78.6" lengthAdjust="spacingAndGlyphs">RBL2H3 cells C.M.</text>
<line x1="541.5" y1="90.4" x2="541.5" y2="244.8" stroke="#444" stroke-width="1"/>
<line x1="539.0" y1="244.5" x2="623.7" y2="244.5" stroke="#444" stroke-width="1"/>
<line x1="539.0" y1="244.5" x2="541.5" y2="244.5" stroke="#444" stroke-width="1"/>
<text x="535.5" y="247.6" font-size="8.5" text-anchor="end" fill="#111">0</text>
<line x1="539.0" y1="214.5" x2="541.5" y2="214.5" stroke="#444" stroke-width="1"/>
<text x="535.5" y="216.8" font-size="8.5" text-anchor="end" fill="#111">100</text>
<line x1="539.0" y1="183.5" x2="541.5" y2="183.5" stroke="#444" stroke-width="1"/>
<text x="535.5" y="186.0" font-size="8.5" text-anchor="end" fill="#111">200</text>
<line x1="539.0" y1="152.5" x2="541.5" y2="152.5" stroke="#444" stroke-width="1"/>
<text x="535.5" y="155.3" font-size="8.5" text-anchor="end" fill="#111">300</text>
<line x1="539.0" y1="121.5" x2="541.5" y2="121.5" stroke="#444" stroke-width="1"/>
<text x="535.5" y="124.5" font-size="8.5" text-anchor="end" fill="#111">400</text>
<line x1="539.0" y1="90.5" x2="541.5" y2="90.5" stroke="#444" stroke-width="1"/>
<text x="535.5" y="93.7" font-size="8.5" text-anchor="end" fill="#111">500</text>
<line x1="551.5" y1="190.9" x2="551.5" y2="187.9" stroke="#333" stroke-width="1"/>
<line x1="550.0" y1="187.5" x2="554.0" y2="187.5" stroke="#333" stroke-width="1"/>
<rect x="543.5" y="190.5" width="17.0" height="54.0" fill="#fff" stroke="#222" stroke-width="1"/>
<line x1="572.5" y1="111.8" x2="572.5" y2="105.1" stroke="#333" stroke-width="1"/>
<line x1="570.5" y1="105.5" x2="574.5" y2="105.5" stroke="#333" stroke-width="1"/>
<rect x="564.5" y="111.5" width="16.0" height="133.0" fill="#000" stroke="#222" stroke-width="1"/>
<line x1="593.5" y1="185.4" x2="593.5" y2="181.7" stroke="#333" stroke-width="1"/>
<line x1="591.4" y1="181.5" x2="595.4" y2="181.5" stroke="#333" stroke-width="1"/>
<rect x="585.5" y="185.5" width="16.0" height="59.0" fill="url(#hb)" stroke="#222" stroke-width="1"/>
<line x1="614.5" y1="177.1" x2="614.5" y2="173.1" stroke="#333" stroke-width="1"/>
<line x1="612.0" y1="173.5" x2="616.0" y2="173.5" stroke="#333" stroke-width="1"/>
<rect x="605.5" y="177.5" width="17.0" height="67.0" fill="url(#hf)" stroke="#222" stroke-width="1"/>
<polyline points="550.5,170.5 550.5,90.5 571.5,90.5 571.5,99.5" fill="none" stroke="#444" stroke-width="1"/>
<polyline points="574.5,99.5 574.5,90.5 613.5,90.5 613.5,155.5" fill="none" stroke="#444" stroke-width="1"/>
<text x="560.0" y="88.3" font-size="8.5" text-anchor="middle" fill="#111">***</text>
<text x="593.8" y="88.3" font-size="8.5" text-anchor="middle" fill="#111">***</text>
<text transform="translate(506.5,216.6) rotate(-90)" x="0" y="0" font-size="9" fill="#111" textLength="109.0" lengthAdjust="spacingAndGlyphs">Cells migrated (number)</text>
<text x="556.3" y="265.0" font-size="9" text-anchor="start" fill="#111" textLength="46.1" lengthAdjust="spacingAndGlyphs">B16F1 cells</text>
<line x1="542.5" y1="283.2" x2="542.5" y2="444.2" stroke="#444" stroke-width="1"/>
<line x1="539.5" y1="444.5" x2="620.7" y2="444.5" stroke="#444" stroke-width="1"/>
<line x1="539.5" y1="444.5" x2="542.0" y2="444.5" stroke="#444" stroke-width="1"/>
<text x="533.8" y="447.0" font-size="8.5" text-anchor="end" fill="#111">0</text>
<line x1="539.5" y1="426.5" x2="542.0" y2="426.5" stroke="#444" stroke-width="1"/>
<text x="533.8" y="429.2" font-size="8.5" text-anchor="end" fill="#111">200</text>
<line x1="539.5" y1="408.5" x2="542.0" y2="408.5" stroke="#444" stroke-width="1"/>
<text x="533.8" y="411.3" font-size="8.5" text-anchor="end" fill="#111">400</text>
<line x1="539.5" y1="390.5" x2="542.0" y2="390.5" stroke="#444" stroke-width="1"/>
<text x="533.8" y="393.5" font-size="8.5" text-anchor="end" fill="#111">600</text>
<line x1="539.5" y1="372.5" x2="542.0" y2="372.5" stroke="#444" stroke-width="1"/>
<text x="533.8" y="375.7" font-size="8.5" text-anchor="end" fill="#111">800</text>
<line x1="539.5" y1="355.5" x2="542.0" y2="355.5" stroke="#444" stroke-width="1"/>
<text x="533.8" y="357.8" font-size="8.5" text-anchor="end" fill="#111">1000</text>
<line x1="539.5" y1="337.5" x2="542.0" y2="337.5" stroke="#444" stroke-width="1"/>
<text x="533.8" y="340.0" font-size="8.5" text-anchor="end" fill="#111">1200</text>
<line x1="539.5" y1="319.5" x2="542.0" y2="319.5" stroke="#444" stroke-width="1"/>
<text x="533.8" y="322.2" font-size="8.5" text-anchor="end" fill="#111">1400</text>
<line x1="539.5" y1="301.5" x2="542.0" y2="301.5" stroke="#444" stroke-width="1"/>
<text x="533.8" y="304.3" font-size="8.5" text-anchor="end" fill="#111">1600</text>
<line x1="539.5" y1="283.5" x2="542.0" y2="283.5" stroke="#444" stroke-width="1"/>
<text x="533.8" y="286.5" font-size="8.5" text-anchor="end" fill="#111">1800</text>
<line x1="551.5" y1="383.6" x2="551.5" y2="377.8" stroke="#333" stroke-width="1"/>
<line x1="549.4" y1="377.5" x2="553.4" y2="377.5" stroke="#333" stroke-width="1"/>
<rect x="544.5" y="383.5" width="14.0" height="61.0" fill="#fff" stroke="#222" stroke-width="1"/>
<line x1="572.5" y1="314.0" x2="572.5" y2="303.8" stroke="#333" stroke-width="1"/>
<line x1="570.0" y1="303.5" x2="574.0" y2="303.5" stroke="#333" stroke-width="1"/>
<rect x="565.5" y="314.5" width="13.0" height="130.0" fill="#000" stroke="#222" stroke-width="1"/>
<line x1="592.5" y1="382.7" x2="592.5" y2="376.9" stroke="#333" stroke-width="1"/>
<line x1="590.4" y1="376.5" x2="594.4" y2="376.5" stroke="#333" stroke-width="1"/>
<rect x="585.5" y="382.5" width="14.0" height="62.0" fill="url(#hb)" stroke="#222" stroke-width="1"/>
<line x1="612.5" y1="381.3" x2="612.5" y2="375.1" stroke="#333" stroke-width="1"/>
<line x1="610.7" y1="375.5" x2="614.7" y2="375.5" stroke="#333" stroke-width="1"/>
<rect x="605.5" y="381.5" width="15.0" height="63.0" fill="url(#hf)" stroke="#222" stroke-width="1"/>
<polyline points="549.5,362.5 549.5,290.5 570.5,290.5 570.5,298.5" fill="none" stroke="#444" stroke-width="1"/>
<polyline points="574.5,298.5 574.5,290.5 612.5,290.5 612.5,359.5" fill="none" stroke="#444" stroke-width="1"/>
<text x="559.4" y="287.8" font-size="8.5" text-anchor="middle" fill="#111">***</text>
<text x="593.8" y="287.8" font-size="8.5" text-anchor="middle" fill="#111">***</text>
<text transform="translate(505.0,407.5) rotate(-90)" x="0" y="0" font-size="9" fill="#111" textLength="106.5" lengthAdjust="spacingAndGlyphs">Cells invaded (number)</text>
<text x="561.4" y="462.4" font-size="9" text-anchor="start" fill="#111" textLength="45.5" lengthAdjust="spacingAndGlyphs">B16F1 cells</text>
</svg></body></html>
